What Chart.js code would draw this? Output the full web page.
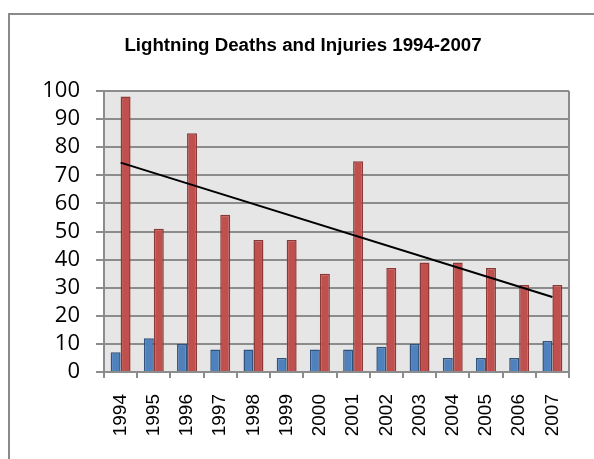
<!DOCTYPE html>
<html>
<head>
<meta charset="utf-8">
<script src="https://cdn.jsdelivr.net/npm/chart.js@4/dist/chart.umd.min.js"></script>
<style>
  html, body { margin: 0; padding: 0; background: #ffffff; }
  #chart { display: block; }
</style>
</head>
<body>
<canvas id="chart" width="594" height="459"></canvas>
<script>
// values
const years = ['1994', '1995', '1996', '1997', '1998', '1999', '2000',
               '2001', '2002', '2003', '2004', '2005', '2006', '2007'];
const deaths   = [7, 12, 10, 8, 8, 5, 8, 8, 9, 10, 5, 5, 5, 11];
const injuries = [98, 51, 85, 56, 47, 47, 35, 75, 37, 39, 39, 37, 31, 31];
// trend line end points (linear trend of injuries)
const trendStart = 74.5;
const trendEnd = 26.7;
const yTicks = [0, 10, 20, 30, 40, 50, 60, 70, 80, 90, 100];
const chartTitle = 'Lightning Deaths and Injuries 1994-2007';

const trend = years.map((y, i) => i === 0 ? trendStart : (i === years.length - 1 ? trendEnd : null));

const gridGray = '#8c8c8c';

// plot background, plot frame, outer chart border and title
const frame = {
    id: 'frame',
    beforeDraw(chart) {
        const c = chart.ctx, a = chart.chartArea;
        c.save();
        c.fillStyle = '#e6e6e6';
        c.fillRect(a.left, a.top, a.right - a.left, a.bottom - a.top);
        c.strokeStyle = '#8a8a8a';
        c.lineWidth = 2;
        c.strokeRect(9, 14, 700, 700);
        c.fillStyle = '#000000';
        c.font = "bold 18.7px 'Liberation Sans', sans-serif";
        c.textAlign = 'center';
        c.textBaseline = 'middle';
        c.fillText(chartTitle, 303, 46);
        c.restore();
    },
    afterDatasetsDraw(chart) {
        const c = chart.ctx, a = chart.chartArea;
        c.save();
        c.strokeStyle = gridGray;
        c.lineWidth = 2;
        c.beginPath();
        c.moveTo(a.right, a.top);
        c.lineTo(a.right, a.bottom);
        c.stroke();
        c.restore();
    }
};

new Chart(document.getElementById('chart'), {
    type: 'bar',
    data: {
        labels: years,
        datasets: [
            {
                type: 'line',
                label: 'Trend',
                data: trend,
                borderColor: '#000000',
                borderWidth: 2,
                pointRadius: 0,
                spanGaps: true,
                order: 0
            },
            {
                label: 'Deaths',
                data: deaths,
                backgroundColor: '#4f81bd',
                borderColor: '#30527c',
                borderWidth: 1.5,
                order: 1
            },
            {
                label: 'Injuries',
                data: injuries,
                backgroundColor: '#c0504d',
                borderColor: '#8c3836',
                borderWidth: 1.5,
                order: 1
            }
        ]
    },
    options: {
        responsive: false,
        animation: false,
        events: [],
        categoryPercentage: 0.6,
        barPercentage: 1.0,
        layout: { padding: { left: 0, right: 25, top: 91, bottom: 0 } },
        plugins: {
            legend: { display: false },
            tooltip: { enabled: false },
            title: { display: false }
        },
        scales: {
            x: {
                grid: {
                    offset: true,
                    drawOnChartArea: false,
                    drawTicks: true,
                    tickLength: 6,
                    color: gridGray,
                    lineWidth: 2
                },
                border: { color: gridGray, width: 2 },
                ticks: {
                    color: '#000000',
                    font: { family: "'Liberation Sans', sans-serif", size: 19 },
                    minRotation: 90,
                    maxRotation: 90,
                    padding: 16,
                    autoSkip: false
                },
                afterFit(scale) { scale.height = 87; }
            },
            y: {
                min: 0,
                max: 100,
                afterBuildTicks(scale) { scale.ticks = yTicks.map(v => ({ value: v })); },
                grid: {
                    color: gridGray,
                    lineWidth: 2,
                    drawTicks: true,
                    tickLength: 8
                },
                border: { color: gridGray, width: 2 },
                ticks: {
                    color: '#000000',
                    font: { family: "'Open Sans', sans-serif", size: 22 },
                    padding: 16,
                    autoSkip: false
                },
                afterFit(scale) { scale.width = 104; }
            }
        }
    },
    plugins: [frame]
});
</script>
</body>
</html>
